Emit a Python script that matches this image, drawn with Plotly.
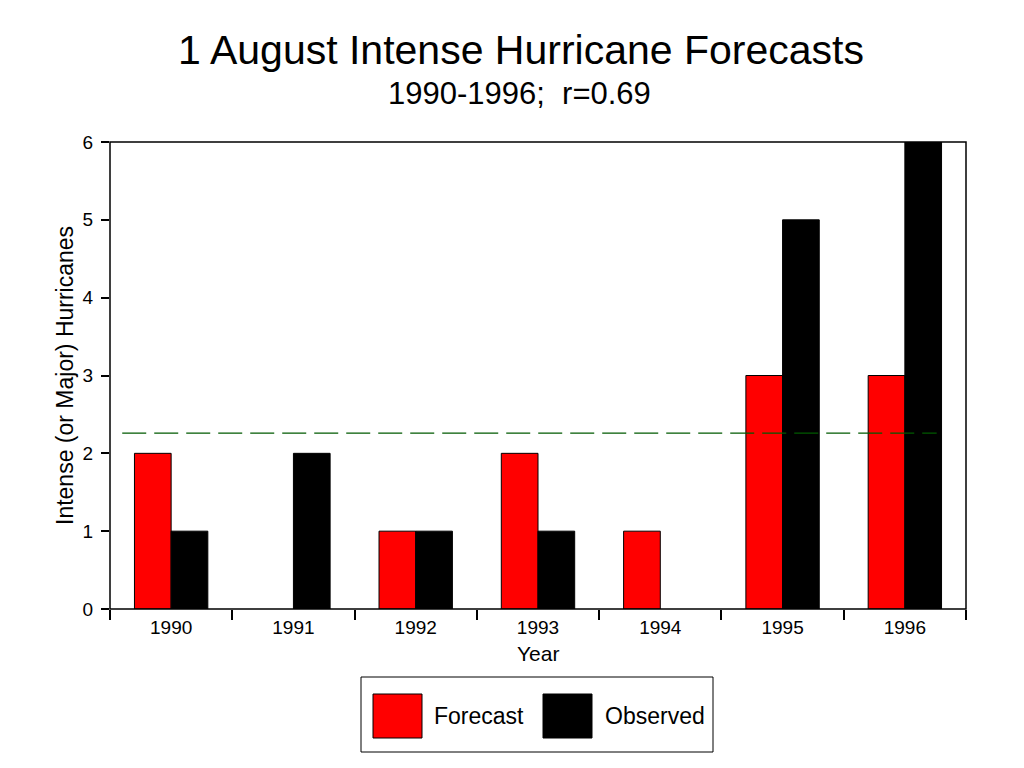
import plotly.graph_objects as go

years = ["1990", "1991", "1992", "1993", "1994", "1995", "1996"]
forecast = [2, 0, 1, 2, 1, 3, 3]
observed = [1, 2, 1, 1, 0, 5, 6]
mean_line = 2.26
y_ticks = [0, 1, 2, 3, 4, 5, 6]

FONT = "Liberation Sans, Arial, sans-serif"

def hide_zero(vals):
    # zero-height bars are not drawn in the original
    return [v if v != 0 else None for v in vals]

fig = go.Figure()
fig.add_trace(go.Bar(x=years, y=hide_zero(forecast), name="Forecast",
                     marker=dict(color="#ff0000", line=dict(color="black", width=1))))
fig.add_trace(go.Bar(x=years, y=hide_zero(observed), name="Observed",
                     marker=dict(color="#000000", line=dict(color="black", width=1))))

# dashed reference line
fig.add_shape(type="line", xref="x", yref="y", x0=-0.4, x1=6.26, y0=mean_line, y1=mean_line,
              line=dict(color="#005a00", width=1.3, dash="24px,8px"), layer="above")

# box around plot area
fig.add_shape(type="rect", xref="paper", yref="paper", x0=0, x1=1, y0=0, y1=1,
              line=dict(color="black", width=1.5), layer="above")

# manual legend
L, R, T, B = 361, 713, 677, 752
PW, PH, PL, PT = 856, 467, 110, 142
def px(x):
    return (x - PL) / PW
def py(y):
    return (PT + PH - y) / PH

fig.add_shape(type="rect", xref="paper", yref="paper", x0=px(L), x1=px(R), y0=py(B), y1=py(T),
              line=dict(color="black", width=1), fillcolor="white")
fig.add_shape(type="rect", xref="paper", yref="paper", x0=px(373), x1=px(422), y0=py(738), y1=py(694),
              line=dict(color="black", width=1), fillcolor="#ff0000")
fig.add_shape(type="rect", xref="paper", yref="paper", x0=px(543), x1=px(592), y0=py(738), y1=py(694),
              line=dict(color="black", width=1), fillcolor="#000000")

annotations = [
    dict(text="Forecast", x=px(432), y=py(716), xref="paper", yref="paper", xanchor="left",
         yanchor="middle", showarrow=False, font=dict(size=23, color="black", family=FONT)),
    dict(text="Observed", x=px(603), y=py(716), xref="paper", yref="paper", xanchor="left",
         yanchor="middle", showarrow=False, font=dict(size=23, color="black", family=FONT)),
    dict(text="1 August Intense Hurricane Forecasts", x=px(521), y=py(50), xref="paper", yref="paper",
         xanchor="center", yanchor="middle", showarrow=False,
         font=dict(size=41, color="black", family=FONT)),
    dict(text="1990-1996;  r=0.69", x=px(519), y=py(93), xref="paper", yref="paper",
         xanchor="center", yanchor="middle", showarrow=False,
         font=dict(size=31, color="black", family=FONT)),
    dict(text="Intense (or Major) Hurricanes", x=px(65), y=py(376), xref="paper", yref="paper",
         xanchor="center", yanchor="middle", textangle=-90, showarrow=False,
         font=dict(size=23, color="black", family=FONT)),
    dict(text="Year", x=px(538), y=py(653), xref="paper", yref="paper",
         xanchor="center", yanchor="middle", showarrow=False,
         font=dict(size=21, color="black", family=FONT)),
]

fig.update_layout(
    width=1024, height=768,
    margin=dict(l=110, r=58, t=142, b=159),
    paper_bgcolor="white", plot_bgcolor="white",
    barmode="group", bargap=0.4, bargroupgap=0,
    showlegend=False,
    font=dict(family=FONT, color="black"),
    annotations=annotations,
    xaxis=dict(type="category", tickson="boundaries", ticks="outside", ticklen=10, tickwidth=1.5,
               tickcolor="black", showline=False, showgrid=False, zeroline=False,
               tickfont=dict(size=19, family=FONT, color="black"), ticklabelstandoff=5,
               range=[-0.5, 6.5]),
    yaxis=dict(range=[0, 6], tickvals=y_ticks, ticks="outside", ticklen=8, tickwidth=1.5,
               tickcolor="black", showline=False, showgrid=False, zeroline=False,
               tickfont=dict(size=19, family=FONT, color="black"), ticklabelstandoff=4),
)

fig.write_html("out.html")
